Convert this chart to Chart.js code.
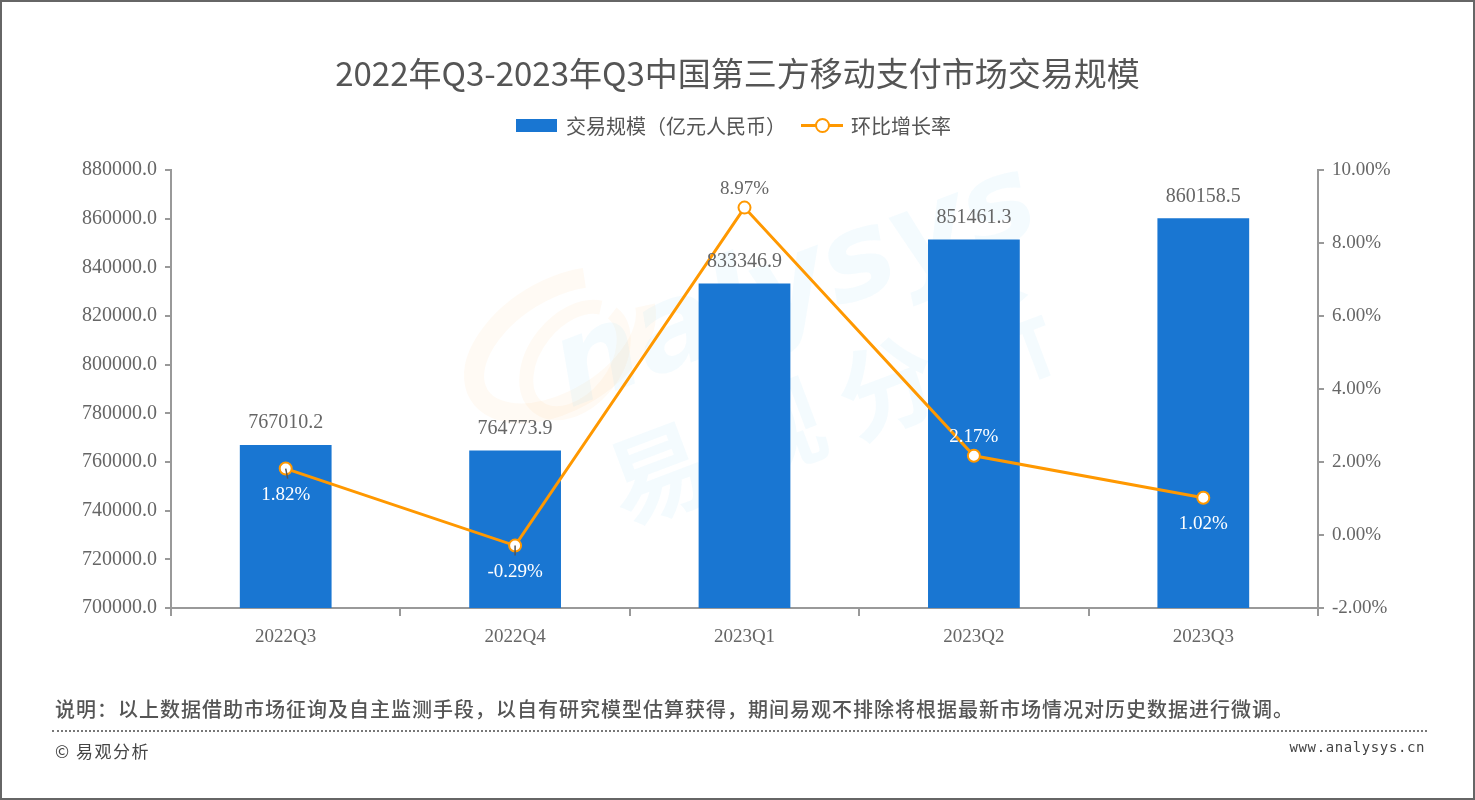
<!DOCTYPE html>
<html>
<head>
<meta charset="utf-8">
<script src="https://cdn.jsdelivr.net/npm/chart.js@4.4.0/dist/chart.umd.min.js"></script>
<style>
  html, body { margin: 0; padding: 0; background: #fff; }
  #wrap { position: relative; width: 1475px; height: 800px; box-sizing: border-box; border: 2px solid #666; overflow: hidden; }
  #c { position: absolute; left: -2px; top: -2px; }
  .title { position: absolute; left: 0; width: 1471px; top: 46px; text-align: center; font: 33px "Noto Sans CJK SC", sans-serif; color: #555; }
  .legend { position: absolute; top: 110px; left: 514px; height: 26px; display: flex; align-items: center; font: 20px "Noto Sans CJK SC", sans-serif; color: #555; }
  .lg-bar { width: 41px; height: 13px; background: #1976d2; margin-right: 9px; }
  .lg-line { position: relative; width: 42px; height: 3px; background: #ff9800; margin: 0 8px 0 15px; }
  .lg-line i { position: absolute; left: 14px; top: -6px; border: 2px solid #ff9800; border-radius: 50%; background: #fff; box-sizing: border-box; width: 15px; height: 15px; }
  .note { position: absolute; left: 53px; top: 692px; font: 500 20px "Noto Sans CJK SC", sans-serif; letter-spacing: 1px; color: #555; }
  .dots { position: absolute; left: 50px; width: 1375px; top: 728px; border-top: 2px dotted #777; }
  .copy { position: absolute; left: 53px; top: 736px; font: 17px "Noto Sans CJK SC", sans-serif; letter-spacing: 1.5px; color: #444; }
  .site { position: absolute; right: 48px; top: 737px; font: 14px "DejaVu Sans Mono", monospace; letter-spacing: 0.6px; color: #444; }
</style>
</head>
<body>
<div id="wrap">
  <canvas id="c" width="1475" height="800"></canvas>
  <div class="title">2022年Q3-2023年Q3中国第三方移动支付市场交易规模</div>
  <div class="legend">
    <span class="lg-bar"></span><span>交易规模（亿元人民币）</span>
    <span class="lg-line"><i></i></span><span>环比增长率</span>
  </div>
  <div class="note">说明：以上数据借助市场征询及自主监测手段，以自有研究模型估算获得，期间易观不排除将根据最新市场情况对历史数据进行微调。</div>
  <div class="dots"></div>
  <div class="copy">© 易观分析</div>
  <div class="site">www.analysys.cn</div>
</div>
<script>
// --- DATA ---
const quarters = ['2022Q3', '2022Q4', '2023Q1', '2023Q2', '2023Q3'];
const tradeScale = [767010.2, 764773.9, 833346.9, 851461.3, 860158.5];   // 亿元人民币
const qoqGrowth = [1.82, -0.29, 8.97, 2.17, 1.02];                       // %
const leftTicks = { min: 700000, max: 880000, step: 20000 };
const rightTicks = { min: -2, max: 10, step: 2 };

// --- STYLE ---
const NUM_FONT = '"Liberation Serif", "DejaVu Serif", serif';
const AXIS = '#999';
const TEXT = '#666';
const BLUE = '#1976d2';
const ORANGE = '#ff9800';
// where each growth label sits relative to its point
const growthLabelSide = ['below', 'below', 'above', 'above', 'below'];

// Faint "analysys / 易观分析" watermark behind the marks
const watermark = {
    id: 'watermark',
    beforeDatasetsDraw(chart) {
        const ctx = chart.ctx;
        ctx.save();
        // orange swirl
        ctx.strokeStyle = 'rgba(255,170,60,0.06)';
        ctx.lineWidth = 20;
        ctx.beginPath();
        ctx.ellipse(560, 345, 95, 55, -0.55, 0.2, Math.PI * 1.7);
        ctx.stroke();
        ctx.lineWidth = 14;
        ctx.beginPath();
        ctx.ellipse(575, 360, 60, 40, -0.9, 0, Math.PI * 1.9);
        ctx.stroke();
        // text
        ctx.fillStyle = 'rgba(120,200,240,0.08)';
        ctx.translate(800, 300);
        ctx.rotate(-0.36);
        ctx.font = 'italic bold 120px "DejaVu Sans", sans-serif';
        ctx.textAlign = 'center';
        ctx.fillText('nalysys', 0, 20);
        ctx.font = 'bold 100px "Noto Sans CJK SC", sans-serif';
        ctx.fillText('易 观 分 析', -10, 150);
        ctx.restore();
    }
};

// Value labels for bars and growth points
const valueLabels = {
    id: 'valueLabels',
    afterDatasetsDraw(chart) {
        const ctx = chart.ctx;
        const bars = chart.getDatasetMeta(0).data;
        const pts = chart.getDatasetMeta(1).data;
        ctx.save();
        ctx.textAlign = 'center';
        ctx.textBaseline = 'middle';
        ctx.font = '20px ' + NUM_FONT;
        ctx.fillStyle = TEXT;
        bars.forEach((b, i) => {
            ctx.fillText(tradeScale[i].toFixed(1), b.x, b.y - 22);
        });
        ctx.font = '19px ' + NUM_FONT;
        pts.forEach((p, i) => {
            const below = growthLabelSide[i] === 'below';
            const ly = below ? p.y + 26 : p.y - 19;
            const inside = ly > bars[i].y;
            if (i < 2) {   // little leader ticks as in the source
                ctx.strokeStyle = '#555';
                ctx.lineWidth = 1.5;
                ctx.beginPath();
                ctx.moveTo(p.x, p.y);
                ctx.lineTo(p.x + 2 * (1 - i), p.y + 10);
                ctx.stroke();
            }
            ctx.fillStyle = inside ? '#fff' : TEXT;
            ctx.fillText(qoqGrowth[i].toFixed(2) + '%', p.x, ly);
        });
        ctx.restore();
    }
};

new Chart(document.getElementById('c'), {
    data: {
        labels: quarters,
        datasets: [
            { type: 'bar', label: '交易规模（亿元人民币）', data: tradeScale, yAxisID: 'y',
              backgroundColor: BLUE, barPercentage: 0.4, categoryPercentage: 1, order: 2 },
            { type: 'line', label: '环比增长率', data: qoqGrowth, yAxisID: 'y1',
              borderColor: ORANGE, borderWidth: 3, pointRadius: 6, pointHoverRadius: 6,
              pointBackgroundColor: '#fff', pointBorderColor: ORANGE, pointBorderWidth: 2,
              tension: 0, order: 1 }
        ]
    },
    options: {
        responsive: false, animation: false, devicePixelRatio: 1,
        layout: { padding: { top: 170, bottom: 152, left: 0, right: 0 } },
        plugins: { legend: { display: false }, title: { display: false }, tooltip: { enabled: false } },
        scales: {
            x: {
                afterFit: s => { s.height = 40; },
                grid: { offset: true, drawOnChartArea: false, tickLength: 8, color: AXIS, lineWidth: 2 },
                border: { color: AXIS, width: 2 },
                ticks: { color: TEXT, padding: 10, font: { family: NUM_FONT, size: 19 } }
            },
            y: {
                position: 'left', min: leftTicks.min, max: leftTicks.max,
                afterFit: s => { s.width = 171; },
                grid: { drawOnChartArea: false, tickLength: 6, color: AXIS, lineWidth: 2 },
                border: { color: AXIS, width: 2 },
                ticks: { stepSize: leftTicks.step, color: TEXT, padding: 8,
                         font: { family: NUM_FONT, size: 20 }, callback: v => v.toFixed(1) }
            },
            y1: {
                position: 'right', min: rightTicks.min, max: rightTicks.max,
                afterFit: s => { s.width = 157; },
                grid: { drawOnChartArea: false, tickLength: 6, color: AXIS, lineWidth: 2 },
                border: { color: AXIS, width: 2 },
                ticks: { stepSize: rightTicks.step, color: TEXT, padding: 8,
                         font: { family: NUM_FONT, size: 19 }, callback: v => v.toFixed(2) + '%' }
            }
        }
    },
    plugins: [watermark, valueLabels]
});
</script>
</body>
</html>
